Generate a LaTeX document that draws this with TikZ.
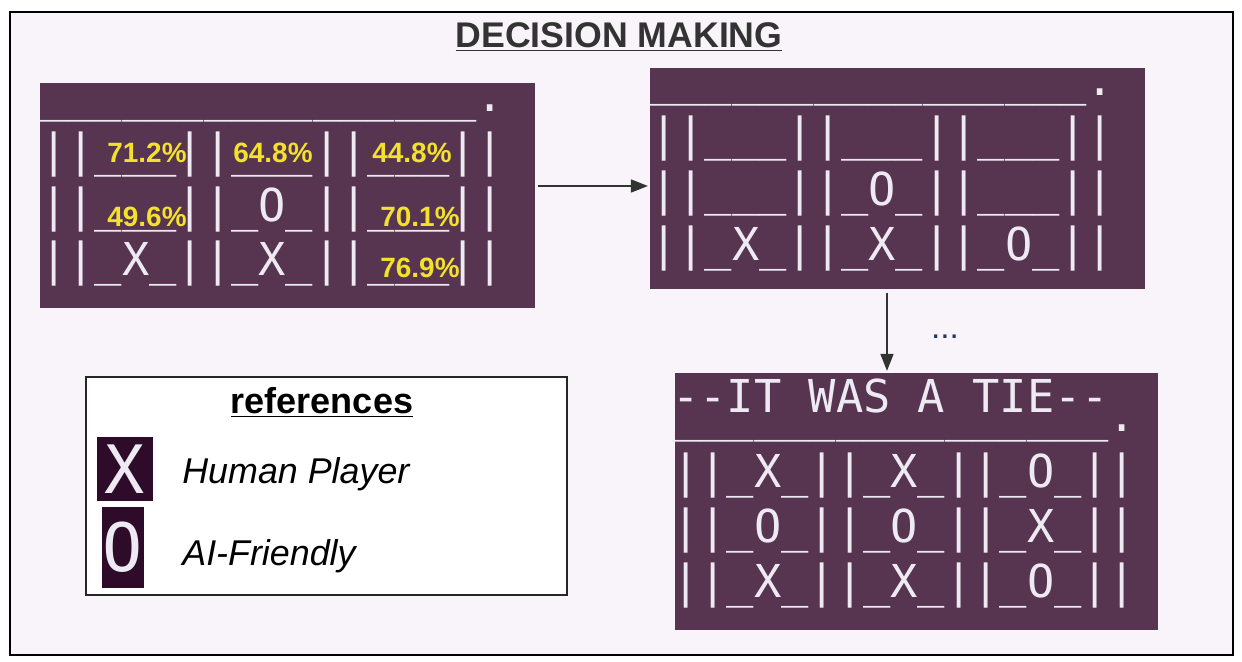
\documentclass[tikz,border=0pt]{standalone}
\usepackage{fontspec}
\setmainfont{Liberation Sans}
\newfontfamily\termfont[Ligatures=NoCommon]{DejaVu Sans Mono}
\usetikzlibrary{arrows.meta}

\definecolor{canvas}{HTML}{F8F4F9}
\definecolor{term}{HTML}{573450}
\definecolor{termdark}{HTML}{2E0B28}
\definecolor{termtext}{HTML}{EEEAF3}
\definecolor{prob}{HTML}{F2E22C}
\definecolor{ink}{HTML}{333333}
\definecolor{dots}{HTML}{1F3864}

\newcommand\emptycell{\_\_\_}
\newcommand\topbar{\_\_\_\_\_\_\_\_\_\_\_\_\_\_\_\_.}

\tikzset{
  board/.style={fill=term, inner sep=0pt},
  termline/.style={anchor=base west, inner sep=0pt, text=termtext,
    font=\termfont\fontsize{25.8}{30}\selectfont},
  probtag/.style={text=prob, inner sep=0pt, font=\bfseries\fontsize{15.9}{18}\selectfont},
  legendtext/.style={anchor=base west, inner sep=0pt, font=\itshape\fontsize{20.4}{24}\selectfont},
  icon/.style={fill=termdark, inner sep=0pt, text=termtext,
    font=\termfont\fontsize{38}{40}\selectfont},
  flow/.style={->, draw=ink, line width=0.85pt},
}

\begin{document}
\begin{tikzpicture}[x=0.02cm, y=-0.02cm, >={Triangle[length=0.34cm, width=0.26cm]}]
    \useasboundingbox (0,0) rectangle (1242,662);
    \draw[line width=1.1pt, fill=canvas] (10,12) rectangle (1233,655);

    % title
    \node[text=ink, anchor=base, inner sep=0pt, font=\bfseries\fontsize{20.3}{24}\selectfont]
        (title) at (619,48) {\underline{DECISION MAKING}};

    % boards
    \node[board, minimum width=9.9cm, minimum height=4.5cm]   (start) at (287.5,195.5) {};
    \node[board, minimum width=9.9cm, minimum height=4.42cm]  (next)  at (897.5,178.5) {};
    \node[board, minimum width=9.66cm, minimum height=5.14cm] (final) at (916.5,501.5) {};

    % board with probabilities
    \node[termline] (s0) at (40,112) {\topbar};
    \node[termline] (s1) at (40,167) {||\emptycell||\emptycell||\emptycell||};
    \node[termline] (s2) at (40,222) {||\emptycell||\_O\_||\emptycell||};
    \node[termline] (s3) at (40,276) {||\_X\_||\_X\_||\emptycell||};
    \node[probtag] (p11) at (147,153) {71.2\%};
    \node[probtag] (p12) at (273,153) {64.8\%};
    \node[probtag] (p13) at (412,153) {44.8\%};
    \node[probtag] (p21) at (147,217) {49.6\%};
    \node[probtag] (p23) at (420,217) {70.1\%};
    \node[probtag] (p33) at (420,268) {76.9\%};

    % board after the move
    \node[termline] (n0) at (650,96)  {\topbar};
    \node[termline] (n1) at (650,151) {||\emptycell||\emptycell||\emptycell||};
    \node[termline] (n2) at (650,206) {||\emptycell||\_O\_||\emptycell||};
    \node[termline] (n3) at (650,261) {||\_X\_||\_X\_||\_O\_||};

    % final board
    \node[termline] (f0) at (672,413) {-{}-IT WAS A TIE-{}-};
    \node[termline] (f1) at (672,432) {\topbar};
    \node[termline] (f2) at (672,487) {||\_X\_||\_X\_||\_O\_||};
    \node[termline] (f3) at (672,542) {||\_O\_||\_O\_||\_X\_||};
    \node[termline] (f4) at (672,597) {||\_X\_||\_X\_||\_O\_||};

    % connectors
    \coordinate (row) at (0,186);
    \coordinate (col) at (887,0);
    \draw[flow, shorten <=1.5pt, shorten >=1pt] (start.east |- row) -- (next.west |- row);
    \draw[flow, shorten <=2pt, shorten >=1pt] (next.south -| col) -- (final.north -| col);
    \node[text=dots, font=\fontsize{19}{22}\selectfont, inner sep=0pt] (more) at (945,337) {...};

    % legend
    \node[draw=black!85, line width=0.85pt, fill=white, minimum width=9.62cm, minimum height=4.36cm]
        (legend) at (326.5,486) {};
    \node[anchor=base, inner sep=0pt, font=\bfseries\fontsize{20.5}{24}\selectfont]
        (legtitle) at (322,414) {\underline{references}};
    \node[icon, minimum width=1.12cm, minimum height=1.28cm] (xicon) at (125,469) {X};
    \node[icon, minimum width=0.84cm, minimum height=1.62cm] (oicon) at (123,547.5) {O};
    \node[legendtext] (human) at (182,483) {Human Player};
    \node[legendtext] (ai)    at (182,565) {AI-Friendly};
\end{tikzpicture}
\end{document}
